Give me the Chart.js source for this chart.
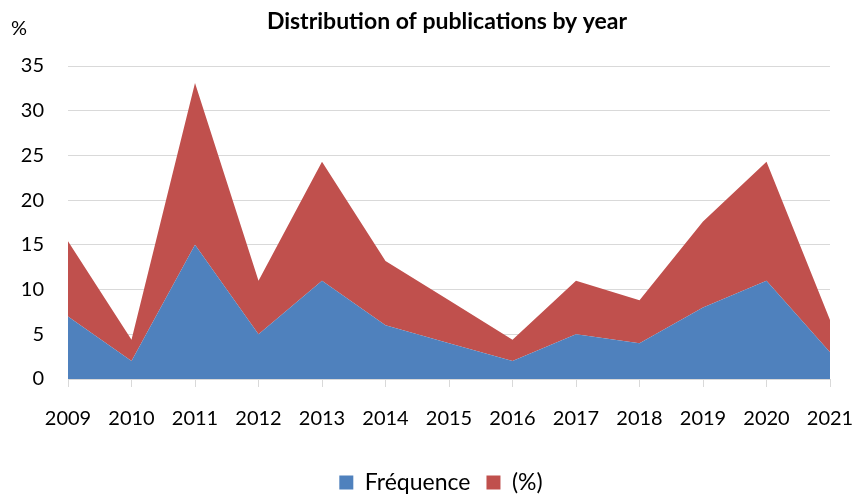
<!DOCTYPE html>
<html>
<head>
<meta charset="utf-8">
<script src="https://cdn.jsdelivr.net/npm/chart.js@4.4.1/dist/chart.umd.min.js"></script>
<style>
  html, body { margin: 0; padding: 0; background: #fff; }
  #wrap { width: 864px; height: 495px; }
</style>
</head>
<body>
<div id="wrap"><canvas id="chart"></canvas></div>
<script>
var years = ['2009', '2010', '2011', '2012', '2013', '2014', '2015', '2016', '2017', '2018', '2019', '2020', '2021'];
var frequence = [7, 2, 15, 5, 11, 6, 4, 2, 5, 4, 8, 11, 3];
var percent = [8.4, 2.4, 18.1, 6.0, 13.3, 7.2, 4.8, 2.4, 6.0, 4.8, 9.6, 13.3, 3.6];
var yTicks = [0, 5, 10, 15, 20, 25, 30, 35];

var FONT = 'Lato, "Open Sans", sans-serif';

// title and the "%" unit label above the y axis
var headerPlugin = {
    id: 'header',
    afterDraw: function (chart) {
        var ctx = chart.ctx;
        ctx.save();
        ctx.fillStyle = '#000';
        ctx.textBaseline = 'middle';
        ctx.textAlign = 'center';
        ctx.font = 'bold 23px ' + FONT;
        ctx.fillText('Distribution of publications by year', 447, 22);
        ctx.textAlign = 'left';
        ctx.font = '20px ' + FONT;
        ctx.fillText('%', 11, 29);
        ctx.restore();
    }
};

new Chart(document.getElementById('chart'), {
    type: 'line',
    data: {
        labels: years,
        datasets: [{
            label: 'Fréquence',
            data: frequence,
            backgroundColor: '#4f81bd',
            borderColor: '#4f81bd',
            borderWidth: 0,
            pointRadius: 0,
            fill: 'origin'
        }, {
            label: '(%)',
            data: percent,
            backgroundColor: '#c0504d',
            borderColor: '#c0504d',
            borderWidth: 0,
            pointRadius: 0,
            fill: '-1'
        }]
    },
    options: {
        responsive: true,
        maintainAspectRatio: false,
        animation: false,
        layout: {
            padding: { top: 66, right: 0, left: 18, bottom: -9 }
        },
        scales: {
            x: {
                offset: false,
                grid: {
                    drawOnChartArea: false,
                    drawTicks: true,
                    tickLength: 8,
                    color: '#d9d9d9'
                },
                border: { display: true, color: '#d9d9d9' },
                ticks: {
                    padding: 20,
                    color: '#000',
                    maxRotation: 0,
                    autoSkip: false,
                    font: { family: FONT, size: 20 }
                },
                afterFit: function (scale) {
                    scale.height = 76;
                    scale.paddingLeft = 0;
                    scale.paddingRight = 34;
                }
            },
            y: {
                stacked: true,
                min: 0,
                max: 35,
                afterBuildTicks: function (scale) {
                    scale.ticks = yTicks.map(function (v) { return { value: v }; });
                },
                grid: {
                    color: '#d9d9d9',
                    drawTicks: false
                },
                border: { display: false },
                ticks: {
                    padding: 24,
                    color: '#000',
                    font: { family: FONT, size: 20 }
                },
                afterFit: function (scale) {
                    scale.width = 50;
                }
            }
        },
        plugins: {
            title: { display: false },
            tooltip: { enabled: false },
            legend: {
                position: 'bottom',
                labels: {
                    color: '#000',
                    boxWidth: 14,
                    boxHeight: 14,
                    padding: 16,
                    font: { family: FONT, size: 23 }
                }
            }
        }
    },
    plugins: [headerPlugin]
});
</script>
</body>
</html>
